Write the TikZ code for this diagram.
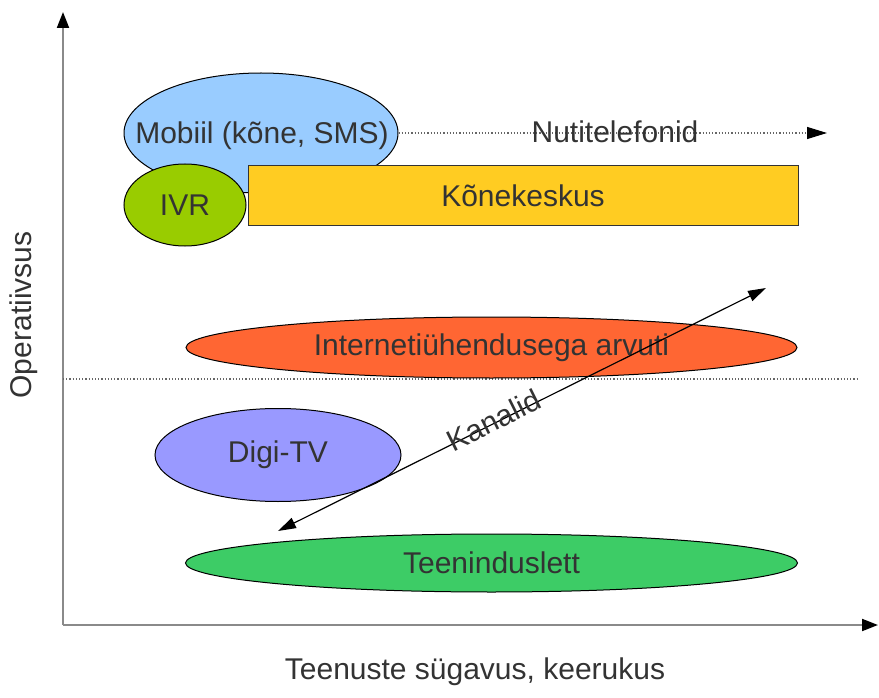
\documentclass[tikz,border=0pt]{standalone}
\usepackage{fontspec}
\setmainfont{Liberation Sans}
\usetikzlibrary{shapes.geometric,arrows.meta}
\definecolor{txt}{HTML}{333333}
\definecolor{axisgray}{HTML}{8A8A8A}
\definecolor{mobc}{HTML}{99CCFF}
\definecolor{ivrc}{HTML}{99CC00}
\definecolor{konc}{HTML}{FFCC22}
\definecolor{intc}{HTML}{FF6633}
\definecolor{digc}{HTML}{9999FF}
\definecolor{teec}{HTML}{3DCC66}
\tikzset{
  lbl/.style={font=\fontsize{30}{35}\selectfont, text=txt, inner sep=0pt},
  blob/.style={ellipse, draw=black, line width=1pt, inner sep=0pt, lbl},
  axisline/.style={draw=axisgray, line width=2pt, -{Triangle[length=16pt,width=12pt,color=black]}},
  dotline/.style={draw=black!60, line width=1.2pt, dotted},
}
\begin{document}
\begin{tikzpicture}[x=1pt,y=-1pt]
\useasboundingbox (0,0) rectangle (879,698);
% axes
\coordinate (o) at (63,625);
\coordinate (ytop) at (63,12);
\coordinate (xend) at (878,625);
\draw[axisline] (o) -- (ytop);
\draw[axisline] (o) -- (xend);
% separator
\coordinate (sepl) at (63,379);
\coordinate (sepr) at (857,379);
\draw[dotline] (sepl) -- (sepr);
% shapes
\node[blob, fill=mobc, minimum width=274pt, minimum height=120pt] (mob) at (261,133) {};
\node[lbl] (mobt) at (262,136) {Mobiil (kõne, SMS)};
\node[draw=black!80, line width=1pt, fill=konc, minimum width=550pt, minimum height=60pt, inner sep=0pt, lbl] (kon) at (523,196) {Kõnekeskus};
\node[blob, fill=ivrc, minimum width=122pt, minimum height=82pt] (ivr) at (185,205) {IVR};
\node[blob, fill=intc, minimum width=611pt, minimum height=61pt] (int) at (491.5,347.5) {Internetiühendusega arvuti};
\node[blob, fill=digc, minimum width=246pt, minimum height=93pt] (dig) at (278,455) {Digi-TV};
\node[blob, fill=teec, minimum width=612pt, minimum height=58pt] (tee) at (491.5,563) {Teeninduslett};
% Nutitelefonid
\coordinate (nend) at (827,133);
\draw[dotline, -{Triangle[length=20pt,width=12pt,color=black]}] (mob.east) -- (nend);
\node[lbl] (nut) at (615,132) {Nutitelefonid};
% Kanalid
\coordinate (ka) at (278,531);
\coordinate (kb) at (766,288);
\draw[black, line width=1.2pt, {Triangle[length=18pt,width=11pt]}-{Triangle[length=18pt,width=11pt]}] (ka) -- node[lbl, sloped, pos=0.445, yshift=3pt] (kan) {Kanalid} (kb);
% axis labels
\node[lbl, rotate=90] (ylab) at (24,315) {Operatiivsus};
\node[lbl] (xlab) at (475,672) {Teenuste sügavus, keerukus};
\end{tikzpicture}
\end{document}
